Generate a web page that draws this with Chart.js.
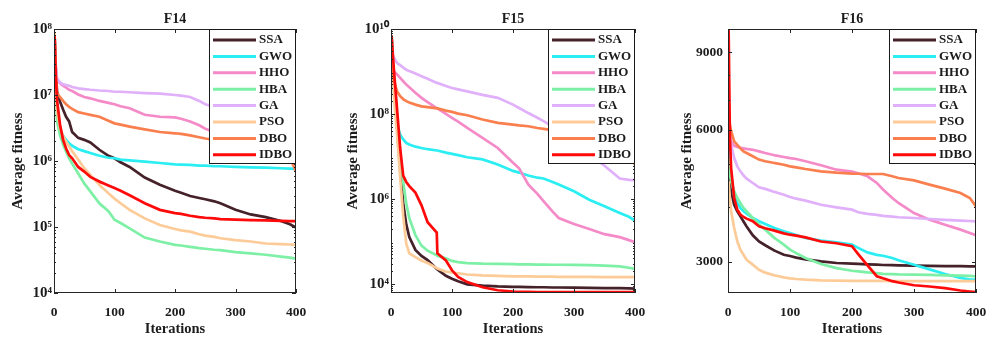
<!DOCTYPE html>
<html>
<head>
<meta charset="utf-8">
<title>Convergence curves F14-F16</title>
<script src="https://cdn.jsdelivr.net/npm/chart.js@4.4.1/dist/chart.umd.min.js"></script>
<style>
  body { margin: 0; background: #fff; width: 1005px; height: 348px; overflow: hidden; position: relative; }
  .panel { position: absolute; top: 0; width: 335px; height: 348px; }
</style>
</head>
<body>
<div class="panel" style="left:0px"><canvas id="f14" width="335" height="348"></canvas></div>
<div class="panel" style="left:335px"><canvas id="f15" width="335" height="348"></canvas></div>
<div class="panel" style="left:670px"><canvas id="f16" width="335" height="348"></canvas></div>
<script>
const iterations = [1, 3, 5, 10, 15, 20, 25, 30, 40, 50, 60, 75, 76, 90, 100, 110, 125, 150, 175, 200, 210, 225, 240, 250, 265, 275, 300, 325, 350, 375, 390, 400];
const algorithms = ["SSA", "GWO", "HHO", "HBA", "GA", "PSO", "DBO", "IDBO"];
const colors = ["#45212a", "#2aeef2", "#f58ac8", "#7df0a6", "#e0b0fa", "#fdcb98", "#fa7f4e", "#ff0a0a"];

// F14
const f14SSA = [7.59e7, 2.51e7, 1.12e7, 7.94e6, 6.03e6, 4.68e6, 3.98e6, 2.75e6, 2.24e6, 2.09e6, 1.91e6, 1.48e6, 1.48e6, 1.20e6, 1.10e6, 9.55e5, 8.13e5, 5.62e5, 4.37e5, 3.55e5, 3.31e5, 2.95e5, 2.75e5, 2.63e5, 2.45e5, 2.29e5, 1.82e5, 1.55e5, 1.41e5, 1.23e5, 1.10e5, 9.77e4];
const f14GWO = [7.08e7, 1.58e7, 5.62e6, 3.09e6, 2.40e6, 2.09e6, 1.86e6, 1.70e6, 1.51e6, 1.41e6, 1.32e6, 1.20e6, 1.20e6, 1.12e6, 1.10e6, 1.05e6, 1.02e6, 9.77e5, 9.33e5, 8.91e5, 8.81e5, 8.71e5, 8.51e5, 8.51e5, 8.32e5, 8.32e5, 8.13e5, 8.03e5, 7.94e5, 7.76e5, 7.67e5, 7.59e5];
const f14HHO = [7.59e7, 2.51e7, 1.70e7, 1.51e7, 1.38e7, 1.29e7, 1.20e7, 1.15e7, 1.02e7, 9.33e6, 8.91e6, 8.13e6, 8.13e6, 7.59e6, 7.24e6, 6.76e6, 6.31e6, 5.01e6, 4.68e6, 4.57e6, 4.37e6, 3.98e6, 3.47e6, 3.09e6, 2.75e6, 2.63e6, 2.24e6, 2.00e6, 1.78e6, 1.58e6, 1.48e6, 1.41e6];
const f14HBA = [7.08e7, 1.0e7, 3.98e6, 2.45e6, 1.78e6, 1.38e6, 1.10e6, 9.12e5, 6.46e5, 4.57e5, 3.47e5, 2.29e5, 2.24e5, 1.74e5, 1.29e5, 1.15e5, 9.55e4, 6.92e4, 6.03e4, 5.37e4, 5.25e4, 5.01e4, 4.79e4, 4.68e4, 4.52e4, 4.47e4, 4.17e4, 3.98e4, 3.80e4, 3.55e4, 3.43e4, 3.31e4];
const f14GA = [5.01e7, 2.51e7, 1.78e7, 1.55e7, 1.45e7, 1.41e7, 1.38e7, 1.32e7, 1.26e7, 1.23e7, 1.20e7, 1.17e7, 1.17e7, 1.15e7, 1.12e7, 1.12e7, 1.10e7, 1.07e7, 1.05e7, 1.0e7, 9.77e6, 9.33e6, 8.13e6, 7.24e6, 6.61e6, 6.31e6, 5.62e6, 4.79e6, 3.98e6, 3.55e6, 3.31e6, 3.16e6];
const f14PSO = [8.91e7, 1.26e7, 5.62e6, 3.09e6, 2.40e6, 1.95e6, 1.66e6, 1.41e6, 1.05e6, 7.76e5, 6.17e5, 4.37e5, 4.27e5, 3.24e5, 2.69e5, 2.29e5, 1.82e5, 1.35e5, 1.07e5, 9.33e4, 8.91e4, 8.51e4, 7.76e4, 7.41e4, 7.08e4, 6.76e4, 6.31e4, 6.03e4, 5.62e4, 5.50e4, 5.43e4, 5.37e4];
const f14DBO = [7.94e7, 2.0e7, 1.07e7, 9.33e6, 8.13e6, 7.24e6, 6.61e6, 6.17e6, 5.50e6, 5.25e6, 5.01e6, 4.68e6, 4.68e6, 4.07e6, 3.72e6, 3.55e6, 3.31e6, 3.02e6, 2.75e6, 2.63e6, 2.57e6, 2.45e6, 2.29e6, 2.19e6, 2.09e6, 2.04e6, 1.91e6, 1.78e6, 1.66e6, 1.41e6, 1.12e6, 6.92e5];
const f14IDBO = [7.94e7, 2.0e7, 8.32e6, 3.55e6, 2.09e6, 1.55e6, 1.23e6, 1.10e6, 8.13e5, 6.92e5, 5.75e5, 4.90e5, 4.84e5, 4.27e5, 3.89e5, 3.55e5, 3.02e5, 2.29e5, 1.82e5, 1.62e5, 1.58e5, 1.48e5, 1.41e5, 1.38e5, 1.35e5, 1.32e5, 1.29e5, 1.27e5, 1.26e5, 1.24e5, 1.23e5, 1.23e5];
const f14TickValues = [1e4, 1e5, 1e6, 1e7, 1e8];
const f14TickLabels = ["10\u2074", "10\u2075", "10\u2076", "10\u2077", "10\u2078"];

// F15
const f15SSA = [6.31e9, 1.58e9, 3.98e8, 5.01e7, 5.01e6, 7.94e5, 2.51e5, 1.26e5, 6.31e4, 4.57e4, 3.63e4, 2.24e4, 2.19e4, 1.55e4, 1.32e4, 1.15e4, 9770, 9120, 8710, 8510, 8510, 8410, 8320, 8320, 8220, 8220, 8130, 8040, 7940, 7940, 7850, 7760];
const f15GWO = [6.31e9, 1.0e9, 3.16e8, 5.62e7, 3.24e7, 2.51e7, 2.09e7, 1.91e7, 1.70e7, 1.58e7, 1.48e7, 1.38e7, 1.38e7, 1.23e7, 1.15e7, 1.07e7, 9.55e6, 8.51e6, 6.46e6, 4.57e6, 4.17e6, 3.55e6, 3.16e6, 3.02e6, 2.51e6, 2.19e6, 1.51e6, 9.55e5, 6.76e5, 4.68e5, 3.80e5, 3.09e5];
const f15HHO = [1.32e9, 1.12e9, 1.0e9, 8.51e8, 7.08e8, 5.89e8, 4.90e8, 4.27e8, 3.16e8, 2.40e8, 1.91e8, 1.38e8, 1.35e8, 1.0e8, 8.13e7, 6.61e7, 4.68e7, 2.75e7, 1.58e7, 7.08e6, 5.25e6, 2.19e6, 1.32e6, 8.91e5, 5.01e5, 3.55e5, 2.57e5, 1.95e5, 1.48e5, 1.26e5, 1.07e5, 9.55e4];
const f15HBA = [6.31e9, 1.58e9, 6.31e8, 7.94e7, 1.0e7, 2.51e6, 7.94e5, 3.55e5, 1.41e5, 7.94e4, 6.03e4, 4.68e4, 4.57e4, 3.98e4, 3.47e4, 3.24e4, 3.09e4, 2.99e4, 2.95e4, 2.92e4, 2.88e4, 2.88e4, 2.85e4, 2.85e4, 2.82e4, 2.82e4, 2.79e4, 2.75e4, 2.69e4, 2.57e4, 2.40e4, 2.24e4];
const f15GA = [2.75e9, 2.40e9, 2.09e9, 1.58e9, 1.41e9, 1.23e9, 1.10e9, 1.02e9, 8.91e8, 7.76e8, 6.76e8, 5.37e8, 5.37e8, 4.57e8, 4.07e8, 3.80e8, 3.39e8, 2.82e8, 2.40e8, 1.66e8, 1.38e8, 1.05e8, 8.13e7, 6.76e7, 5.01e7, 3.98e7, 2.24e7, 1.12e7, 6.03e6, 3.02e6, 2.82e6, 2.75e6];
const f15PSO = [6.31e9, 1.0e9, 2.51e8, 3.16e7, 3.16e6, 3.98e5, 8.91e4, 5.25e4, 4.27e4, 3.55e4, 3.09e4, 2.34e4, 2.29e4, 1.95e4, 1.86e4, 1.78e4, 1.66e4, 1.58e4, 1.55e4, 1.51e4, 1.51e4, 1.50e4, 1.48e4, 1.48e4, 1.48e4, 1.46e4, 1.46e4, 1.46e4, 1.45e4, 1.45e4, 1.45e4, 1.45e4];
const f15DBO = [1.41e9, 8.91e8, 5.89e8, 3.39e8, 2.63e8, 2.24e8, 2.0e8, 1.86e8, 1.66e8, 1.51e8, 1.45e8, 1.35e8, 1.35e8, 1.20e8, 1.12e8, 1.02e8, 9.33e7, 7.41e7, 6.17e7, 5.62e7, 5.37e7, 5.13e7, 4.68e7, 4.47e7, 4.17e7, 3.98e7, 3.55e7, 3.16e7, 2.82e7, 2.24e7, 1.41e7, 6.31e6];
const f15IDBO = [7.08e9, 2.51e9, 1.0e9, 1.26e8, 1.58e7, 3.55e6, 2.51e6, 2.0e6, 1.41e6, 7.08e5, 2.82e5, 1.62e5, 5.25e4, 3.55e4, 2.09e4, 1.45e4, 1.10e4, 8320, 7080, 6610, 6530, 6460, 6430, 6400, 6400, 6400, 6400, 6400, 6400, 6400, 6400, 6400];
const f15TickValues = [1e4, 1e6, 1e8, 1e10];
const f15TickLabels = ["10\u2074", "10\u2076", "10\u2078", "10\u00b9\u2070"];

// F16
const f16SSA = [5360, 4740, 4345, 4050, 3913, 3810, 3710, 3615, 3450, 3340, 3275, 3185, 3180, 3115, 3095, 3070, 3042, 3010, 2984, 2974, 2969, 2964, 2958, 2953, 2950, 2948, 2943, 2940, 2937, 2935, 2933, 2932];
const f16GWO = [5840, 5171, 4740, 4230, 4090, 3980, 3913, 3866, 3778, 3713, 3660, 3585, 3580, 3522, 3492, 3456, 3401, 3354, 3325, 3285, 3230, 3154, 3115, 3100, 3063, 3026, 2958, 2886, 2817, 2760, 2737, 2737];
const f16HHO = [6270, 5840, 5646, 5510, 5480, 5460, 5440, 5425, 5400, 5357, 5310, 5250, 5245, 5200, 5171, 5147, 5085, 4980, 4866, 4816, 4775, 4700, 4540, 4385, 4195, 4087, 3877, 3745, 3648, 3554, 3492, 3450];
const f16HBA = [5171, 4740, 4578, 4345, 4195, 4087, 3980, 3913, 3778, 3648, 3554, 3401, 3395, 3285, 3200, 3143, 3063, 2969, 2906, 2865, 2855, 2840, 2830, 2820, 2815, 2810, 2808, 2803, 2798, 2793, 2789, 2784];
const f16GA = [6493, 5960, 5547, 5171, 4952, 4824, 4725, 4642, 4538, 4437, 4400, 4330, 4328, 4269, 4218, 4180, 4137, 4050, 3995, 3946, 3893, 3860, 3840, 3820, 3806, 3792, 3778, 3758, 3739, 3726, 3719, 3713];
const f16PSO = [4578, 4195, 3913, 3585, 3343, 3200, 3115, 3035, 2958, 2880, 2837, 2797, 2795, 2768, 2754, 2744, 2735, 2725, 2721, 2718, 2717, 2716, 2716, 2716, 2715, 2715, 2713, 2713, 2713, 2713, 2713, 2713];
const f16DBO = [6723, 6159, 5960, 5646, 5540, 5440, 5357, 5310, 5220, 5130, 5085, 5040, 5038, 4994, 4950, 4925, 4883, 4824, 4790, 4765, 4763, 4757, 4757, 4757, 4700, 4659, 4600, 4500, 4405, 4305, 4195, 4015];
const f16IDBO = [10150, 5848, 4908, 4195, 3946, 3846, 3798, 3765, 3713, 3619, 3580, 3535, 3532, 3486, 3461, 3443, 3413, 3340, 3310, 3258, 3127, 2948, 2784, 2754, 2713, 2694, 2656, 2638, 2615, 2584, 2570, 2561];
const f16TickValues = [3000, 6000, 9000];
const f16TickLabels = ["3000", "6000", "9000"];

const serif = '"Liberation Serif", "Times New Roman", serif';
const textColor = "#1c1c1c";
Chart.defaults.font.family = serif;
Chart.defaults.font.weight = "bold";
Chart.defaults.color = textColor;

// box round the axes, inward ticks (MATLAB style) and the legend in the top right corner
const frameAndLegend = {
    id: "frameAndLegend",
    afterDatasetsDraw(chart) {
        const { ctx, chartArea: a, scales: { x, y } } = chart;
        ctx.save();
        ctx.strokeStyle = "#262626";
        ctx.lineWidth = 1;
        ctx.beginPath();
        x.ticks.forEach(t => {
            const px = Math.round(x.getPixelForValue(t.value)) + 0.5;
            ctx.moveTo(px, a.bottom); ctx.lineTo(px, a.bottom - 4);
            ctx.moveTo(px, a.top); ctx.lineTo(px, a.top + 4);
        });
        y.ticks.forEach(t => {
            const py = Math.round(y.getPixelForValue(t.value)) + 0.5;
            ctx.moveTo(a.left, py); ctx.lineTo(a.left + 4, py);
            ctx.moveTo(a.right, py); ctx.lineTo(a.right - 4, py);
        });
        for (let k = Math.floor(Math.log10(y.min)); k <= Math.ceil(Math.log10(y.max)); k++) {
            for (let m = 2; m <= 9; m++) {
                const v = m * Math.pow(10, k);
                if (v <= y.min || v >= y.max) continue;
                const py = Math.round(y.getPixelForValue(v)) + 0.5;
                ctx.moveTo(a.left, py); ctx.lineTo(a.left + 2, py);
                ctx.moveTo(a.right, py); ctx.lineTo(a.right - 2, py);
            }
        }
        ctx.stroke();
        ctx.strokeRect(Math.round(a.left) + 0.5, Math.round(a.top) + 0.5,
            Math.round(a.right - a.left) - 1, Math.round(a.bottom - a.top) - 1);

        // legend
        const bw = 87, bh = 135;
        const bx = Math.round(a.right) - bw, by = Math.round(a.top);
        ctx.fillStyle = "#fff";
        ctx.fillRect(bx, by, bw, bh);
        ctx.strokeStyle = "#1a1a1a";
        ctx.strokeRect(bx + 0.5, by + 0.5, bw - 1, bh - 1);
        ctx.font = "bold 13px " + serif;
        ctx.textBaseline = "middle";
        chart.data.datasets.forEach((ds, i) => {
            const cy = by + 11 + i * 16.4;
            ctx.strokeStyle = ds.borderColor;
            ctx.lineWidth = 3;
            ctx.beginPath();
            ctx.moveTo(bx + 4, cy);
            ctx.lineTo(bx + 47, cy);
            ctx.stroke();
            ctx.fillStyle = textColor;
            ctx.fillText(ds.label, bx + 50, cy);
        });
        ctx.restore();
    }
};

const makeChart = (id, cfg) => new Chart(document.getElementById(id), {
    type: "line",
    data: {
        datasets: algorithms.map((name, i) => ({
            label: name,
            data: iterations.map((it, j) => ({ x: it, y: cfg.series[i][j] })),
            borderColor: colors[i],
            borderWidth: 2.7,
            pointRadius: 0,
            tension: 0,
            order: algorithms.length - i // later algorithms drawn on top
        }))
    },
    options: {
        responsive: false,
        animation: false,
        devicePixelRatio: 1,
        layout: { padding: { left: 0, right: cfg.padRight, top: 0, bottom: 0 } },
        plugins: {
            legend: { display: false },
            tooltip: { enabled: false },
            title: {
                display: true, text: cfg.title, fullSize: false, color: textColor,
                font: { size: 14, weight: "bold" }, padding: { top: 11, bottom: 1.2 }
            }
        },
        scales: {
            x: {
                type: "linear", min: 0, max: 400,
                ticks: { stepSize: 100, padding: 11, font: { size: 13.5, weight: "bold" }, color: textColor },
                grid: { display: false, drawTicks: false },
                border: { display: false },
                title: { display: true, text: "Iterations", color: textColor, font: { size: 14.5, weight: "bold" }, padding: { top: 0, bottom: 10 } },
                afterFit(s) { s.height = 55; }
            },
            y: {
                type: "logarithmic", min: cfg.yMin, max: cfg.yMax,
                afterBuildTicks(s) { s.ticks = cfg.tickValues.map(v => ({ value: v })); },
                ticks: { callback: (v, i) => cfg.tickLabels[i], padding: cfg.tickPad, font: { size: cfg.tickSize, weight: "bold" }, color: textColor },
                grid: { display: false, drawTicks: false },
                border: { display: false },
                title: { display: true, text: "Average fitness", color: textColor, font: { size: 15, weight: "bold" }, padding: { top: cfg.titlePad, bottom: 0 } },
                afterFit(s) { s.width = cfg.axisWidth; }
            }
        }
    },
    plugins: [frameAndLegend]
});

makeChart("f14", {
    title: "F14", series: [f14SSA, f14GWO, f14HHO, f14HBA, f14GA, f14PSO, f14DBO, f14IDBO],
    yMin: 1e4, yMax: 1e8, tickValues: f14TickValues, tickLabels: f14TickLabels,
    tickSize: 15, tickPad: 2, axisWidth: 54, padRight: 39, titlePad: 9.5
});
makeChart("f15", {
    title: "F15", series: [f15SSA, f15GWO, f15HHO, f15HBA, f15GA, f15PSO, f15DBO, f15IDBO],
    yMin: 6100, yMax: 1e10, tickValues: f15TickValues, tickLabels: f15TickLabels,
    tickSize: 15, tickPad: 2, axisWidth: 56, padRight: 35, titlePad: 9
});
makeChart("f16", {
    title: "F16", series: [f16SSA, f16GWO, f16HHO, f16HBA, f16GA, f16PSO, f16DBO, f16IDBO],
    yMin: 2550, yMax: 10170, tickValues: f16TickValues, tickLabels: f16TickLabels,
    tickSize: 13.5, tickPad: 5, axisWidth: 58, padRight: 29, titlePad: 8
});
</script>
</body>
</html>
